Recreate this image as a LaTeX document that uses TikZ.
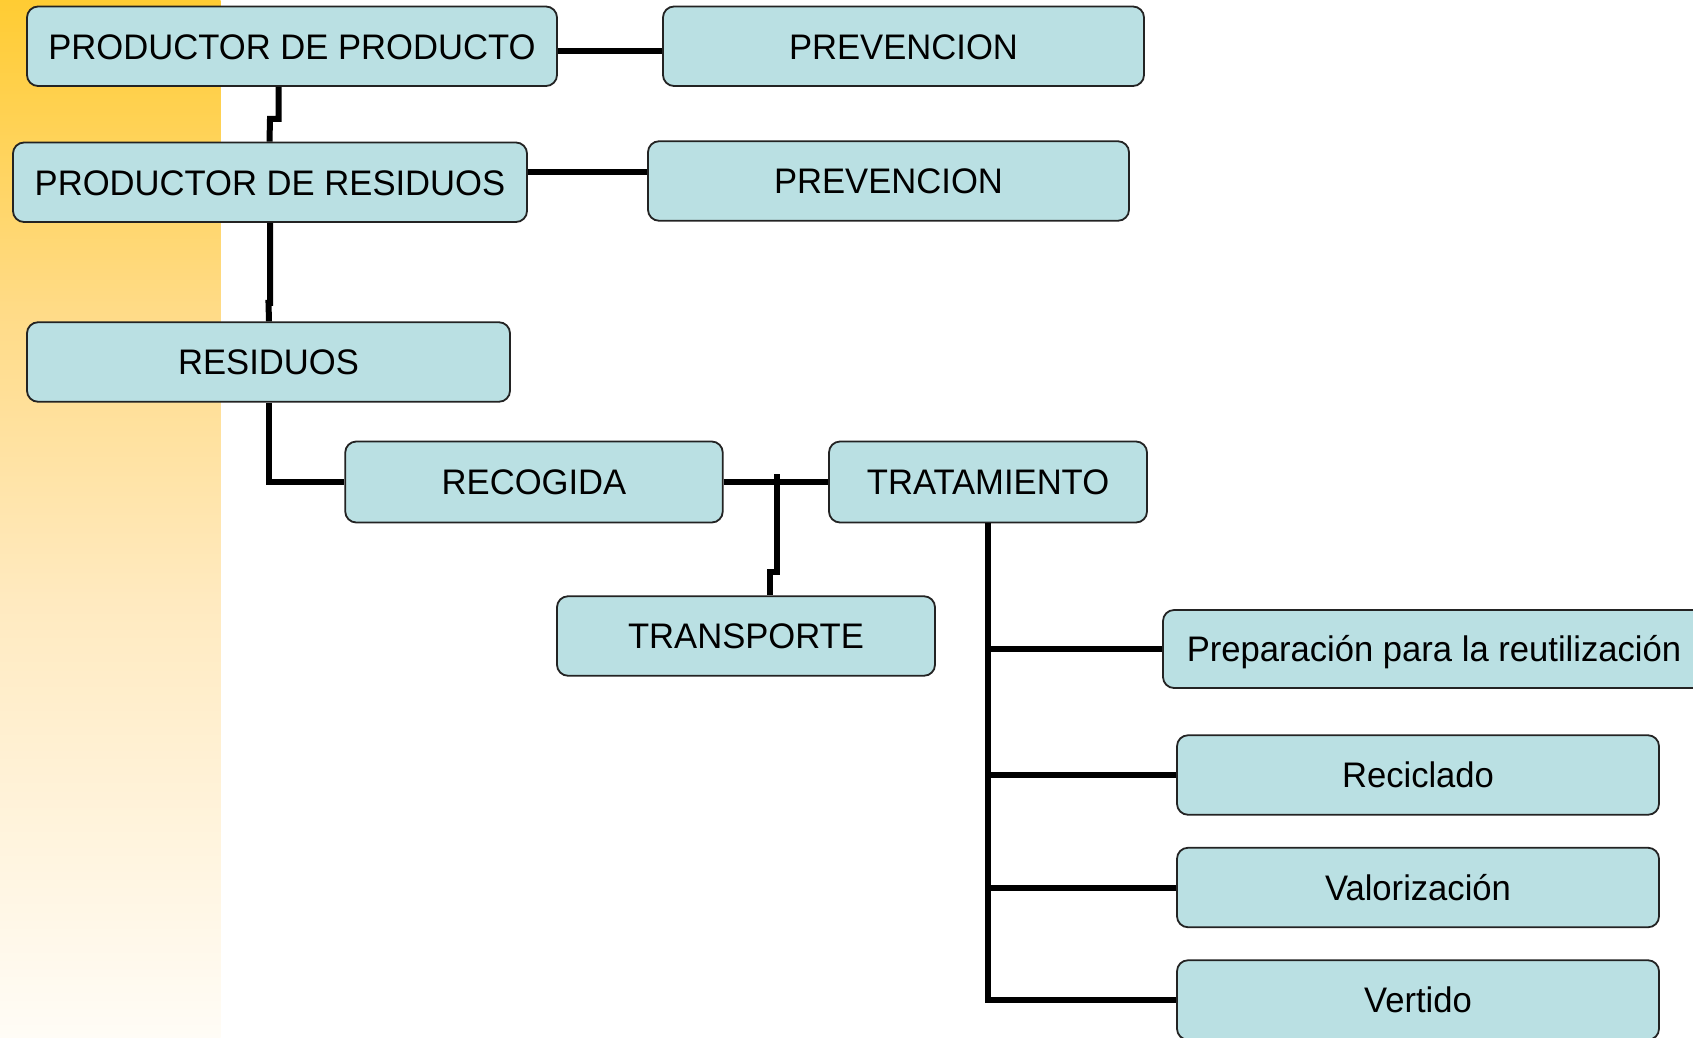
\documentclass[tikz,border=0pt]{standalone}
\usepackage{fontspec}
\newfontfamily\boxfont[FakeStretch=0.975]{Liberation Sans}
\definecolor{boxfill}{RGB}{186,224,227}
\definecolor{boxline}{RGB}{35,35,35}
\definecolor{gA}{RGB}{255,252,246}
\definecolor{gB}{RGB}{255,234,192}
\definecolor{gC}{RGB}{255,219,135}
\definecolor{gD}{RGB}{255,204,51}
\pgfdeclareverticalshading{sidegrad}{100bp}{color(0bp)=(gA); color(25bp)=(gA); color(46bp)=(gB); color(60bp)=(gC); color(75bp)=(gD); color(100bp)=(gD)}
\tikzset{
  box/.style={draw=boxline, line width=1.8pt, fill=boxfill, rounded corners=11pt,
    inner sep=0pt, minimum height=79.5pt, text=black, text height=25.5pt, text depth=0pt,
    font=\boxfont\fontsize{35.5}{40}\selectfont},
  conn/.style={draw=black, line width=6pt}
}
\begin{document}
\begin{tikzpicture}[x=1pt,y=-1pt]
\useasboundingbox (0,0) rectangle (1693,1037);
\clip (0,0) rectangle (1693,1037);
\fill[white] (0,0) rectangle (1693,1037);
\shade[shading=sidegrad] (0,0) rectangle (220.5,1037);

\coordinate (tj) at (776.5,474);

% nodes
\node[box, minimum width=530pt] (pp) at (292,46.25) {PRODUCTOR DE PRODUCTO};
\node[box, minimum width=481pt] (prev1) at (903.5,46.25) {PREVENCION};
\node[box, minimum width=514pt] (pr) at (270,182.25) {PRODUCTOR DE RESIDUOS};
\node[box, minimum width=481pt] (prev2) at (888.5,181) {PREVENCION};
\node[box, minimum width=483pt] (res) at (268.5,362) {RESIDUOS};
\node[box, minimum width=377.5pt, minimum height=81pt] (rec) at (534,482) {RECOGIDA};
\node[box, minimum width=318pt, minimum height=81pt] (trat) at (988,482) {TRATAMIENTO};
\node[box, minimum width=378pt] (trans) at (746,636) {TRANSPORTE};
\node[box, minimum width=542pt, minimum height=78pt] (prep) at (1434,649) {Preparación para la reutilización};
\node[box, minimum width=482pt] (recic) at (1418,775) {Reciclado};
\node[box, minimum width=482pt] (valor) at (1418,887.5) {Valorización};
\node[box, minimum width=482pt] (vert) at (1418,1000) {Vertido};

% connectors
\draw[conn] ([yshift=-5pt]pp.east) -- ([yshift=-5pt]pp.east -| prev1.west);
\draw[conn] ([yshift=10pt]pr.east) -- ([yshift=10pt]pr.east -| prev2.west);
\draw[conn] ([xshift=-13.5pt]pp.south) -- ++(0,32) -- ++(-8.5,0) -- ([xshift=-0.5pt]pr.north);
\draw[conn] (pr.south) -- ++(0,80) -- ++(-1.5,0) -- ([xshift=0.5pt]res.north);
\draw[conn] ([xshift=0.5pt]res.south) |- (rec.west);
\draw[conn] (rec.east) -- (trat.west);
\draw[conn] (tj) -- (776.5,572) -- (769.5,572) -- ([xshift=23.5pt]trans.north);
\draw[conn] (trat.south) |- (vert.west);
\draw[conn] ([xshift=2pt]trat.south |- prep.west) -- (prep.west);
\draw[conn] ([xshift=2pt]trat.south |- recic.west) -- (recic.west);
\draw[conn] ([xshift=2pt]trat.south |- valor.west) -- (valor.west);
\end{tikzpicture}
\end{document}
